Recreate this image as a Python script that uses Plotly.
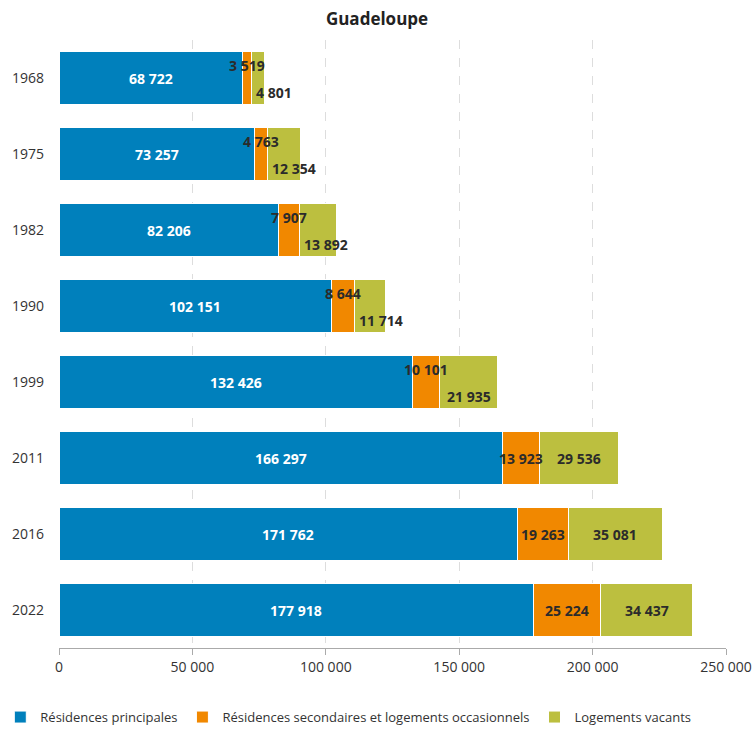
import plotly.graph_objects as go

years = ["1968", "1975", "1982", "1990", "1999", "2011", "2016", "2022"]
principales = [68722, 73257, 82206, 102151, 132426, 166297, 171762, 177918]
secondaires = [3519, 4763, 7907, 8644, 10101, 13923, 19263, 25224]
vacants = [4801, 12354, 13892, 11714, 21935, 29536, 35081, 34437]
names = ["Résidences principales", "Résidences secondaires et logements occasionnels", "Logements vacants"]
colors = ["#0080BC", "#F18800", "#BCBF3F"]
xticks = [0, 50000, 100000, 150000, 200000, 250000]

def fmt(v):
    return f"{v:,}".replace(",", " ")

FONT = "Open Sans, Noto Sans, sans-serif"
XMAX = 250000
PLOT_W = 754 - 59 - 28
UPP = XMAX / PLOT_W  # data units per pixel

fig = go.Figure()
for vals, name, col in zip([principales, secondaires, vacants], names, colors):
    fig.add_trace(go.Bar(
        y=years, x=vals, name=name, orientation="h",
        marker=dict(color=col, line=dict(color="white", width=1)),
    ))

# annotation y uses the category index (category axis)
ann = []
for i, y in enumerate(years):
    p, s, v = principales[i], secondaires[i], vacants[i]
    ann.append(dict(x=p / 2, y=i, text=fmt(p), font_color="white"))
    small = s < 11000
    ann.append(dict(x=p + s / 2, y=i, text=fmt(s), yshift=13 if small else 0, font_color="#2b2b2b"))
    start = p + s
    center = start + v / 2
    txt = fmt(v)
    minx = start + (len(txt) * 7.8 / 2 + 3) * UPP
    gx = max(center, minx) if small else center
    ann.append(dict(x=gx, y=i, text=txt, yshift=-14 if small else 0, font_color="#2b2b2b"))
annotations = []
for a in ann:
    annotations.append(dict(x=a["x"], y=a["y"], xref="x", yref="y", showarrow=False,
                            text="<b>" + a["text"] + "</b>", yshift=a.get("yshift", 0),
                            font=dict(color=a["font_color"], size=14, family=FONT)))

fig.update_layout(
    barmode="stack",
    bargap=0.31,
    width=754, height=731,
    margin=dict(l=59, r=28, t=40, b=83, autoexpand=False),
    paper_bgcolor="white", plot_bgcolor="white",
    font=dict(family=FONT, size=14, color="#333333"),
    title=dict(text="<b>Guadeloupe</b>", x=0.5, xanchor="center", y=0.974, yanchor="middle",
               font=dict(size=17, color="#222222", family=FONT)),
    xaxis=dict(range=[0, XMAX], tickvals=xticks,
               ticktext=[fmt(t) for t in xticks], automargin=False,
               showgrid=True, gridcolor="#dddddd", griddash="dash", gridwidth=1,
               showline=True, linecolor="#aaaaaa", linewidth=1,
               ticks="outside", ticklen=6, tickcolor="#aaaaaa",
               zeroline=False, tickfont=dict(size=14, color="#333333")),
    yaxis=dict(type="category", categoryorder="array", categoryarray=years,
               autorange="reversed", automargin=False,
               showgrid=False, zeroline=False, ticks="", ticklabelstandoff=14,
               tickfont=dict(size=14, color="#333333")),
    legend=dict(orientation="h", x=-0.088, xanchor="left",
                y=-0.089, yanchor="top",
                font=dict(size=13, color="#333333"), traceorder="normal"),
    annotations=annotations,
    showlegend=True,
)

fig.write_html("out.html")
